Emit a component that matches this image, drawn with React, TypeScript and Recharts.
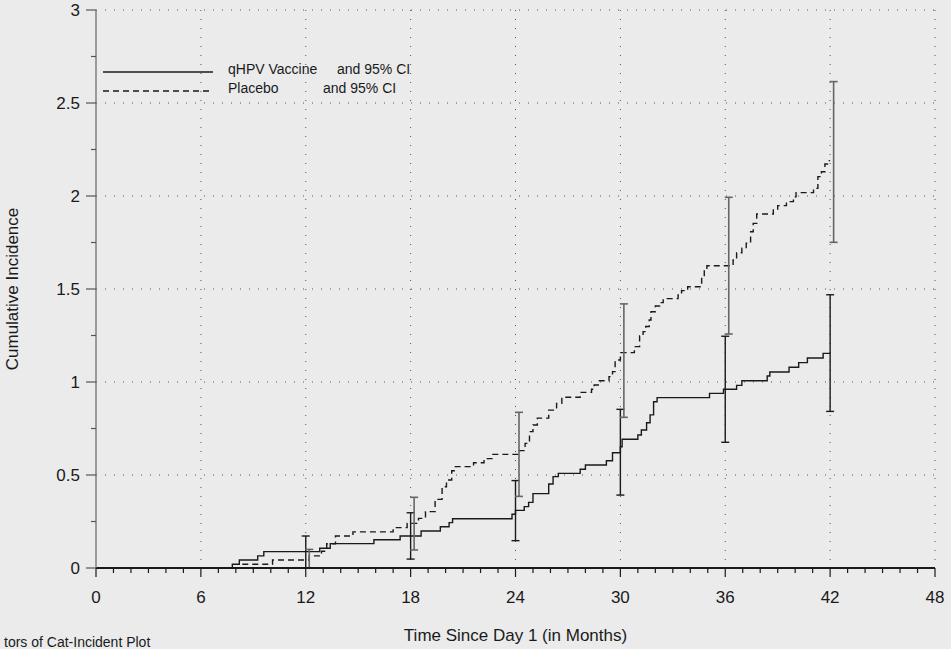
import React from "react";
import {
  ComposedChart,
  Line,
  Scatter,
  ErrorBar,
  XAxis,
  YAxis,
  CartesianGrid,
  Label,
} from "recharts";

// Kaplan-Meier style cumulative incidence (months -> %)
const vaccineMonths = [
  0, 7.8, 8.2, 9.25, 9.6, 12.8, 13.4, 15.9, 17.4, 18.6, 19.7, 20.2, 20.4, 23.8,
  24.0, 24.5, 24.75, 25.0, 25.9, 26.15, 26.45, 27.7, 28.0, 29.2, 29.55, 30.0,
  30.1, 31.0, 31.2, 31.5, 31.7, 31.9, 32.1, 35.1, 35.9, 36.65, 36.95, 38.4,
  38.55, 39.65, 40.2, 40.7, 41.6, 42.0,
];
const vaccineValues = [
  0, 0.02, 0.043, 0.065, 0.088, 0.106, 0.131, 0.152, 0.172, 0.199, 0.222,
  0.244, 0.265, 0.289, 0.31, 0.33, 0.353, 0.4, 0.452, 0.491, 0.509, 0.531,
  0.554, 0.577, 0.62, 0.652, 0.692, 0.715, 0.742, 0.781, 0.823, 0.894, 0.916,
  0.939, 0.961, 0.982, 1.007, 1.032, 1.054, 1.079, 1.104, 1.129, 1.154, 1.154,
];

const placeboMonths = [
  0, 8.3, 10.1, 12.2, 12.9, 13.2, 13.7, 14.7, 17.0, 17.8, 18.45, 18.85, 19.4,
  19.8, 20.05, 20.35, 20.5, 21.6, 22.2, 22.7, 24.2, 24.55, 24.8, 25.0, 25.25,
  25.9, 26.35, 26.65, 27.7, 28.35, 28.5, 28.8, 29.35, 29.55, 29.7, 30.0, 30.8,
  31.1, 31.3, 31.45, 31.65, 31.75, 32.0, 32.25, 32.45, 33.3, 33.5, 33.85, 34.65,
  34.8, 34.95, 36.45, 36.65, 36.95, 37.2, 37.45, 37.6, 37.8, 38.75, 39.0, 39.5,
  39.9, 40.05, 41.05, 41.3, 41.5, 41.7, 41.85, 42.0,
];
const placeboValues = [
  0, 0.02, 0.043, 0.065, 0.09, 0.13, 0.172, 0.194, 0.217, 0.24, 0.267, 0.303,
  0.369, 0.437, 0.473, 0.523, 0.545, 0.566, 0.588, 0.611, 0.631, 0.67, 0.733,
  0.769, 0.806, 0.849, 0.885, 0.918, 0.944, 0.961, 0.984, 1.007, 1.029, 1.056,
  1.118, 1.158, 1.19, 1.247, 1.271, 1.298, 1.333, 1.378, 1.409, 1.427, 1.448,
  1.468, 1.491, 1.512, 1.557, 1.602, 1.625, 1.656, 1.695, 1.719, 1.746, 1.808,
  1.853, 1.903, 1.925, 1.948, 1.97, 1.996, 2.018, 2.041, 2.104, 2.13, 2.172,
  2.19, 2.19,
];

// 95% CI whiskers
const vaccineCiMonths = [12, 18, 24, 30, 36, 42];
const vaccineCiLow = [0, 0.048, 0.147, 0.392, 0.676, 0.842];
const vaccineCiHigh = [0.172, 0.297, 0.47, 0.853, 1.246, 1.469];
const placeboCiMonths = [12.2, 18.2, 24.2, 30.2, 36.2, 42.2];
const placeboCiLow = [0, 0.097, 0.385, 0.81, 1.258, 1.751];
const placeboCiHigh = [0.1, 0.38, 0.837, 1.42, 1.993, 2.615];

const xMajor = [0, 6, 12, 18, 24, 30, 36, 42, 48];
const yMajor = [0, 0.5, 1, 1.5, 2, 2.5, 3];
const xTicks = Array.from({ length: 49 }, (_, i) => i);
const yTicks = Array.from({ length: 13 }, (_, i) => i * 0.25);

const vaccineData = vaccineMonths.map((m, i) => ({ m, v: vaccineValues[i] }));
const placeboData = placeboMonths.map((m, i) => ({ m, v: placeboValues[i] }));
const ciRows = (ms: number[], lo: number[], hi: number[]) =>
  ms.map((m, i) => ({ m, y: (lo[i] + hi[i]) / 2, err: (hi[i] - lo[i]) / 2 }));
const vaccineCi = ciRows(vaccineCiMonths, vaccineCiLow, vaccineCiHigh);
const placeboCi = ciRows(placeboCiMonths, placeboCiLow, placeboCiHigh);

const font = "'Liberation Sans', Arial, sans-serif";
const ink = "#1a1a1a";

const XTick = (props: any) => {
  const { x, y, payload } = props;
  const major = xMajor.includes(payload.value);
  return (
    <g>
      <line x1={x} x2={x} y1={y} y2={y + (major ? 9 : 5)} stroke={ink} strokeWidth={1.2} />
      {major && (
        <text x={x} y={y + 35} textAnchor="middle" fontSize={17} fill={ink} fontFamily={font}>
          {payload.value}
        </text>
      )}
    </g>
  );
};

const YTick = (props: any) => {
  const { x, y, payload } = props;
  const major = yMajor.includes(payload.value);
  return (
    <g>
      <line x1={x - (major ? 10 : 5)} x2={x} y1={y} y2={y} stroke="#555" strokeWidth={1.2} />
      {major && (
        <text x={x - 16} y={y + 6} textAnchor="end" fontSize={17} fill={ink} fontFamily={font}>
          {payload.value}
        </text>
      )}
    </g>
  );
};

export default function App() {
  return (
    <div
      style={{
        position: "fixed",
        left: 0,
        top: 0,
        width: 951,
        height: 649,
        background: "#ebebeb",
        overflow: "hidden",
        fontFamily: font,
      }}
    >
      <ComposedChart
        width={951}
        height={649}
        margin={{ top: 10, right: 16, left: 0, bottom: 0 }}
      >
        <CartesianGrid
          stroke="#555"
          strokeDasharray="1 8"
          verticalValues={xMajor.slice(1)}
          horizontalValues={yMajor.slice(1)}
        />
        <XAxis
          dataKey="m"
          type="number"
          domain={[0, 48]}
          ticks={xTicks}
          interval={0}
          height={81}
          tickSize={0}
          tickMargin={0}
          tickLine={false}
          tick={<XTick />}
          axisLine={{ stroke: ink, strokeWidth: 2 }}
          allowDataOverflow
        >
          <Label
            value="Time Since Day 1 (in Months)"
            position="insideBottom"
            offset={8}
            style={{ fontSize: 17, fill: ink, fontFamily: font }}
          />
        </XAxis>
        <YAxis
          type="number"
          domain={[0, 3]}
          ticks={yTicks}
          interval={0}
          width={96}
          tickSize={0}
          tickMargin={0}
          tickLine={false}
          tick={<YTick />}
          axisLine={{ stroke: "#666", strokeWidth: 1.2 }}
          allowDataOverflow
        >
          <Label
            value="Cumulative Incidence"
            angle={-90}
            position="insideLeft"
            offset={12}
            style={{ fontSize: 17, fill: ink, fontFamily: font, textAnchor: "middle" }}
          />
        </YAxis>
        <Line
          data={vaccineData}
          dataKey="v"
          type="stepAfter"
          stroke={ink}
          strokeWidth={1.4}
          dot={false}
          isAnimationActive={false}
        />
        <Line
          data={placeboData}
          dataKey="v"
          type="stepAfter"
          stroke={ink}
          strokeWidth={1.4}
          strokeDasharray="6 4"
          dot={false}
          isAnimationActive={false}
        />
        <Scatter data={vaccineCi} dataKey="y" shape={() => <g />} isAnimationActive={false}>
          <ErrorBar dataKey="err" direction="y" width={4} stroke={ink} strokeWidth={1.4} isAnimationActive={false} />
        </Scatter>
        <Scatter data={placeboCi} dataKey="y" shape={() => <g />} isAnimationActive={false}>
          <ErrorBar dataKey="err" direction="y" width={4} stroke="#666" strokeWidth={1.6} isAnimationActive={false} />
        </Scatter>
      </ComposedChart>

      <svg style={{ position: "absolute", left: 0, top: 0 }} width={951} height={649}>
        <line x1={103} x2={213} y1={72} y2={72} stroke={ink} strokeWidth={1.4} />
        <line x1={103} x2={213} y1={91} y2={91} stroke={ink} strokeWidth={1.4} strokeDasharray="6 4" />
        <g fontSize={14} fill={ink} fontFamily={font}>
          <text x={228} y={74}>qHPV Vaccine</text>
          <text x={337} y={74}>and 95% CI</text>
          <text x={228} y={93}>Placebo</text>
          <text x={323} y={93}>and 95% CI</text>
        </g>
        <text x={4} y={647} fontSize={14} fill={ink} fontFamily={font}>
          tors of Cat-Incident Plot
        </text>
      </svg>
    </div>
  );
}
